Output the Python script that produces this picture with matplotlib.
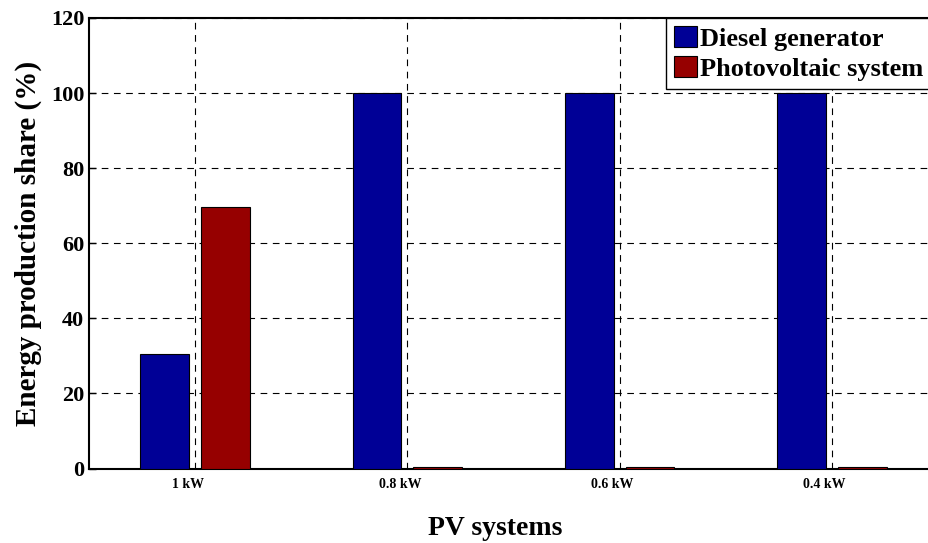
import numpy as np
import matplotlib
matplotlib.use("Agg")
import matplotlib.pyplot as plt

plt.rcParams['font.family'] = ['Liberation Serif', 'DejaVu Serif']
plt.rcParams['font.weight'] = 'bold'

# data
systems = ["1 kW", "0.8 kW", "0.6 kW", "0.4 kW"]
diesel = [30.4, 100.0, 100.0, 100.0]
pv = [69.6, 0.3, 0.3, 0.3]
yticks = [0, 20, 40, 60, 80, 100, 120]

C_DIESEL = '#000096'
C_PV = '#960000'

fig = plt.figure(figsize=(9.29, 5.43), dpi=100)
# the original plot box runs slightly past the right edge of the picture
ax = fig.add_axes([0.0958, 0.1372, 0.914, 0.8297])

x = np.arange(1, len(systems) + 1)
w = 0.229
off = 0.143
ax.bar(x - off, diesel, w, color=C_DIESEL, edgecolor='black', linewidth=0.8,
       label='Diesel generator', zorder=3)
ax.bar(x + off, pv, w, color=C_PV, edgecolor='black', linewidth=0.8,
       label='Photovoltaic system', zorder=3)

ax.set_xlim(0.5, 4.5)
ax.set_ylim(0, 120)
ax.set_yticks(yticks)
ax.set_xticks(x)
ax.set_xticklabels([])
# category labels sit slightly left of the ticks
for xi, lab in zip(x, systems):
    ax.text(xi - 0.035, -4.2, lab, ha='center', va='center', fontsize=10,
            fontweight='bold')

ax.tick_params(axis='y', direction='in', labelsize=16, length=5, width=1)
ax.tick_params(axis='x', direction='in', length=0)
for lab in ax.get_yticklabels():
    lab.set_fontweight('bold')

ax.grid(True, linestyle=(0, (6, 5)), color='black', linewidth=0.8, zorder=1)
ax.set_axisbelow(True)
for s in ax.spines.values():
    s.set_linewidth(1.5)

ax.set_ylabel("Energy production share (%)", fontsize=21, fontweight='bold',
              labelpad=6)
ax.set_xlabel("PV systems", fontsize=20, fontweight='bold')
ax.xaxis.set_label_coords(0.478, -0.105)

leg = ax.legend(loc='upper left', bbox_to_anchor=(0.680, 1.0),
                borderaxespad=0, fontsize=19,
                handlelength=0.85, handleheight=0.85, handletextpad=0.12,
                borderpad=0.3, labelspacing=0.22, fancybox=False,
                edgecolor='black', framealpha=1)
leg.get_frame().set_linewidth(1.0)
for t in leg.get_texts():
    t.set_fontweight('bold')

fig.savefig('out.png', dpi=100)
